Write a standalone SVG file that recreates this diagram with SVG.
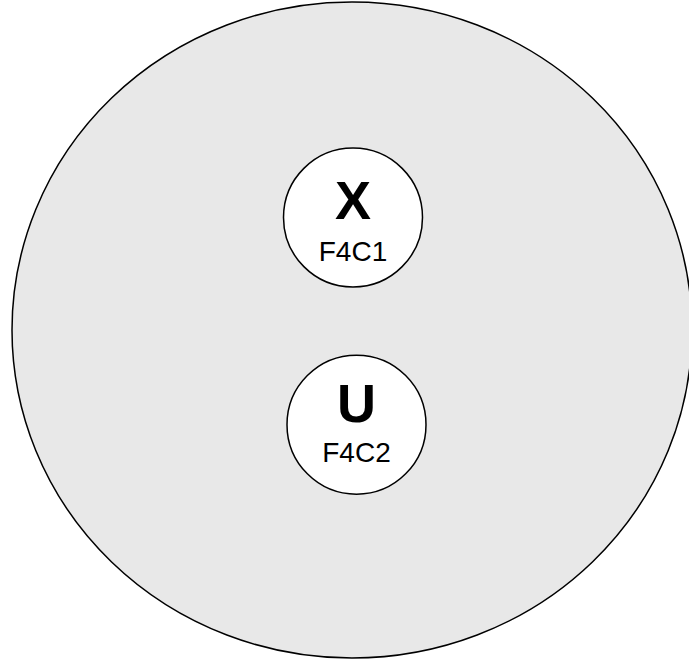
<svg xmlns="http://www.w3.org/2000/svg" width="689" height="659" viewBox="0 0 689 659">
<style>
.bg{fill:#e8e8e8;stroke:#000;stroke-width:1.5}
.node{fill:#fff;stroke:#000;stroke-width:1.5}
.big{font-family:"Liberation Sans",Arial,sans-serif;font-weight:bold;font-size:54px;text-anchor:middle;fill:#000}
.small{font-family:"Liberation Sans",Arial,sans-serif;font-size:28px;text-anchor:middle;fill:#000}
</style>
<rect width="689" height="659" fill="#fff"/>
<g id="container">
<ellipse class="bg" cx="352" cy="330" rx="340" ry="328"/>
</g>
<g id="connectors"></g>
<g id="node-x">
<circle class="node" cx="353" cy="217.5" r="69.5"/>
<text class="big" x="353" y="219">X</text>
<text class="small" x="353" y="261">F4C1</text>
</g>
<g id="node-u">
<circle class="node" cx="356.5" cy="424.7" r="69.5"/>
<text class="big" x="356.5" y="422">U</text>
<text class="small" x="356.5" y="462">F4C2</text>
</g>
</svg>
